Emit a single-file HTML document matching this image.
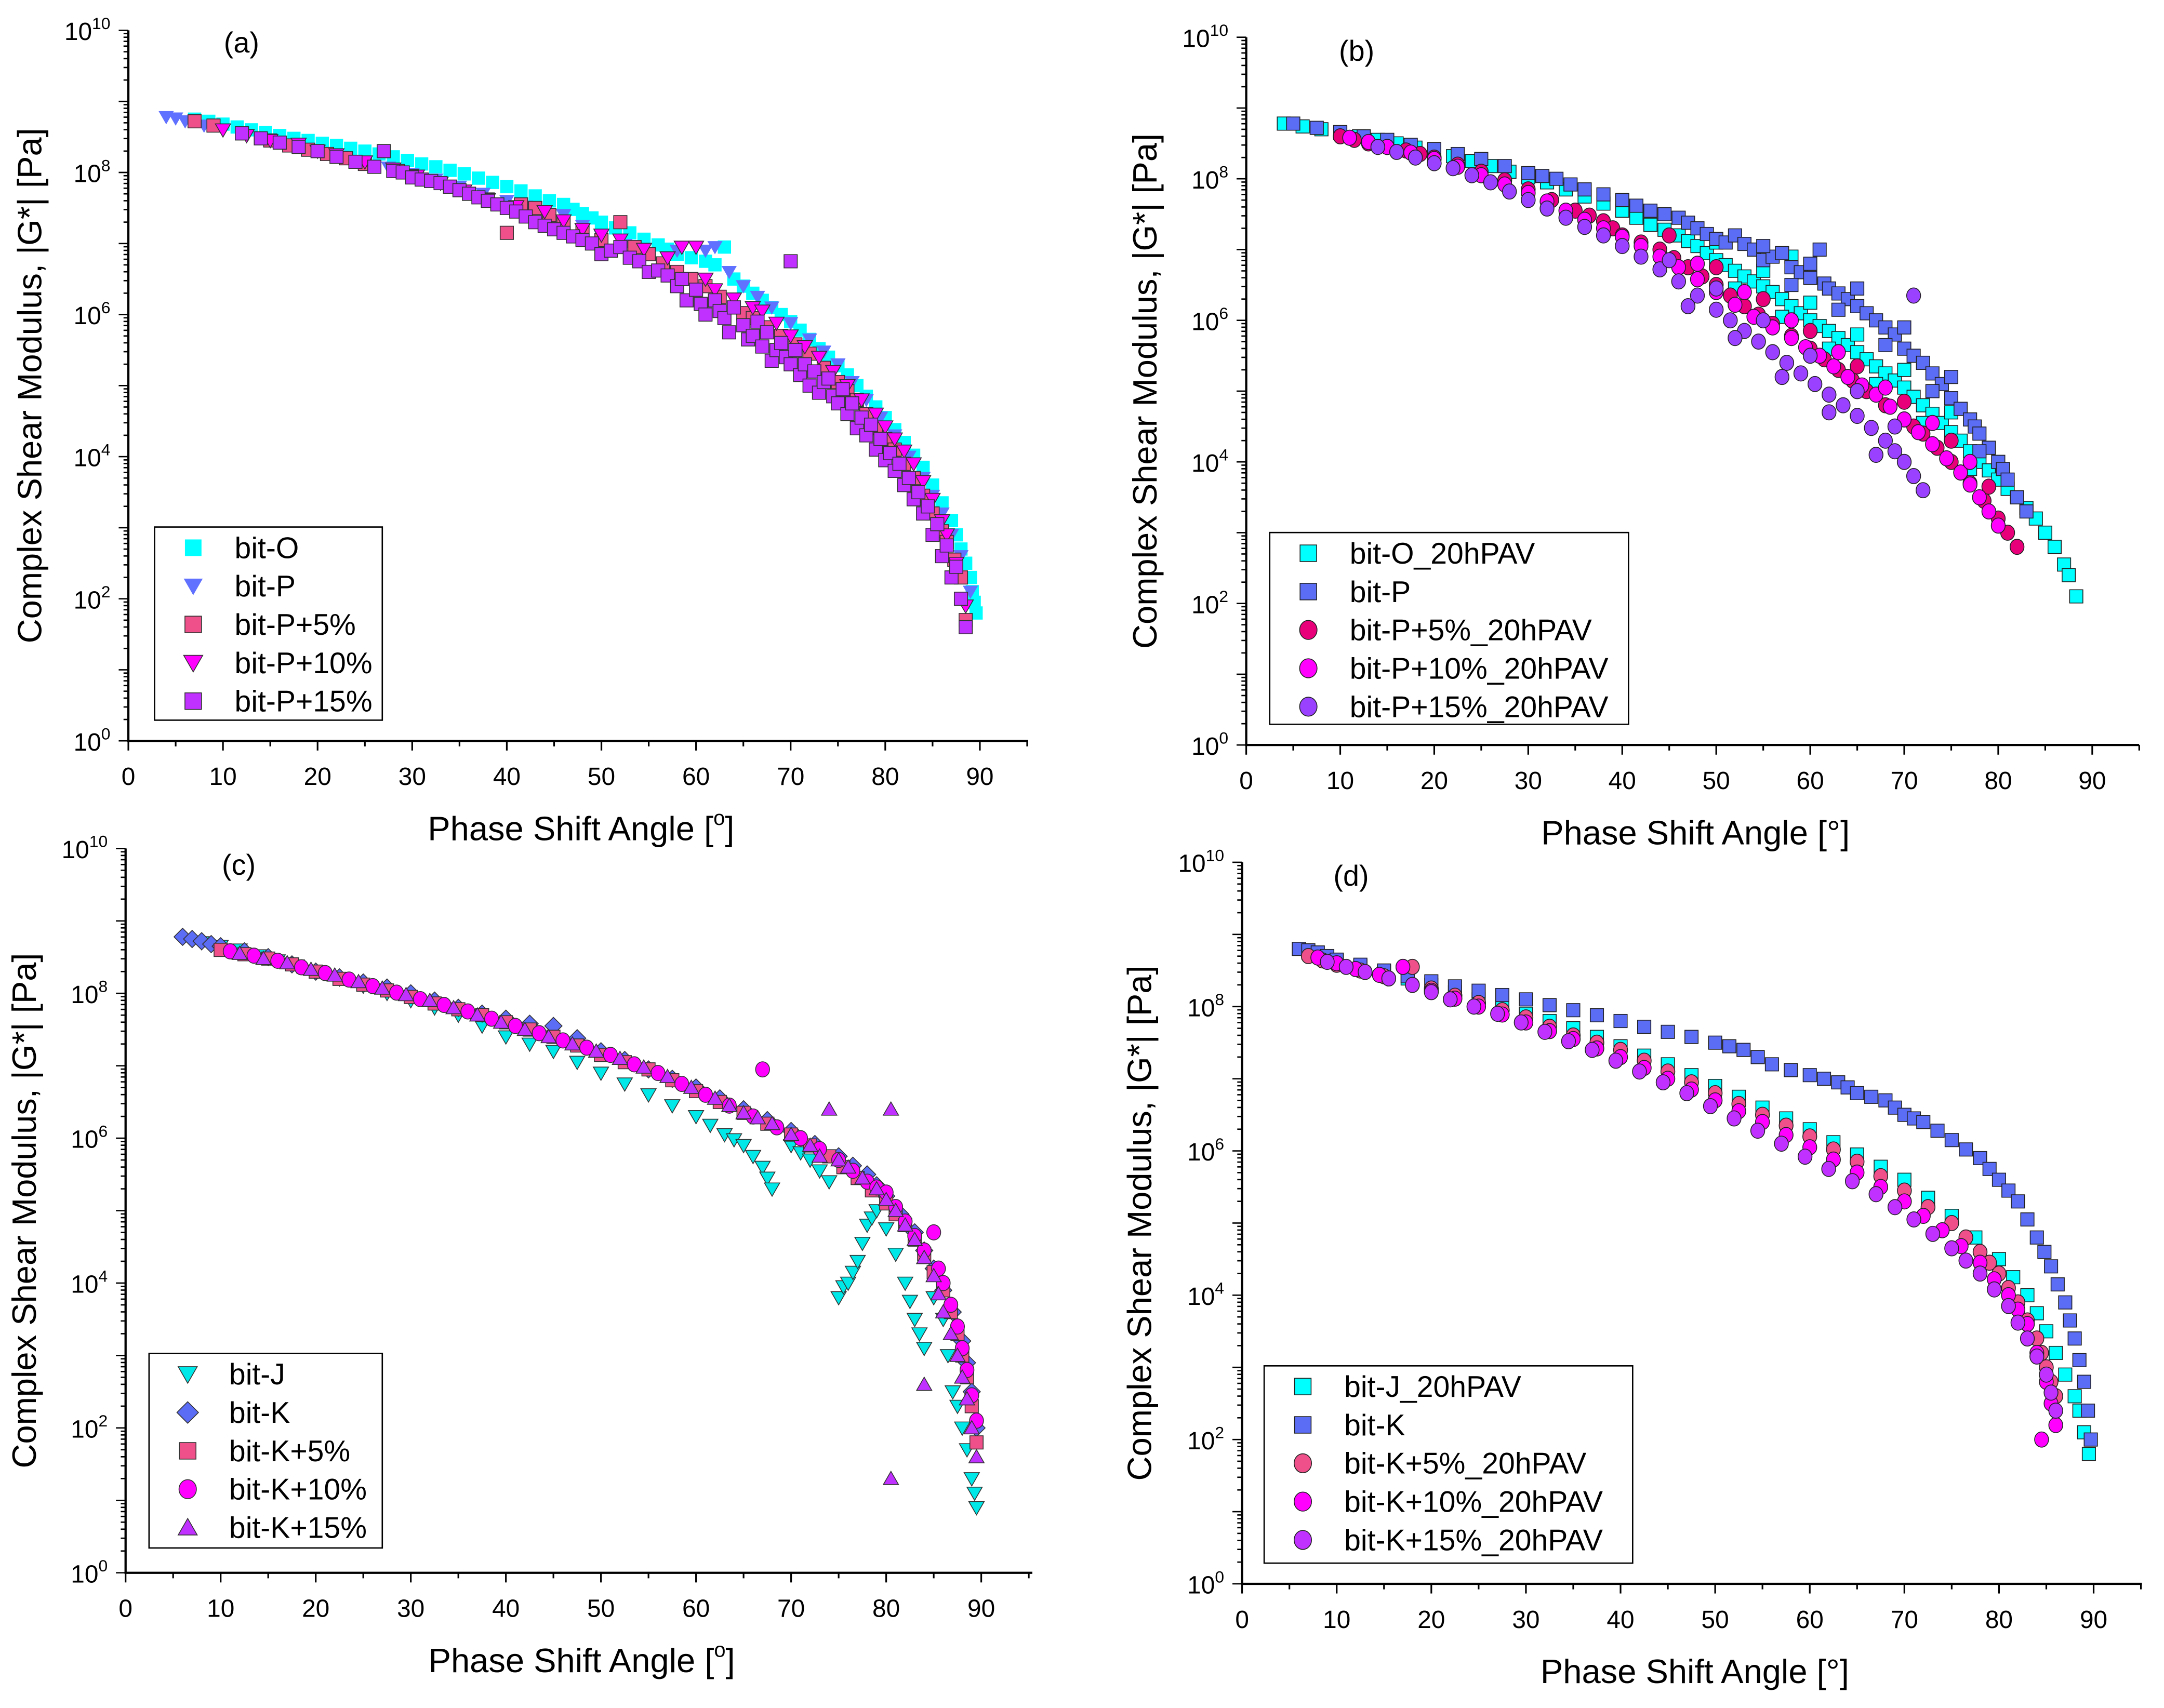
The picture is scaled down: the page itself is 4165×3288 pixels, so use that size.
<!DOCTYPE html>
<html><head><meta charset="utf-8"><style>
html,body{margin:0;padding:0;background:#fff}
svg{display:block}
text{font-family:"Liberation Sans",Arial,sans-serif;fill:#000}
</style></head><body>
<svg id="fig" width="4165" height="3288" viewBox="0 0 1568 1238" preserveAspectRatio="none" xmlns="http://www.w3.org/2000/svg"></svg>
<script>
// ---- data: [phase angle (deg), log10 |G*| (Pa)] ----
const aO=[[7,8.75],[8.5,8.72],[10,8.68],[11.5,8.64],[13,8.6],[14.5,8.56],[16,8.52],[17.5,8.48],[19,8.45],[20.5,8.41],[22,8.38],[23.5,8.34],[25,8.3],[26.5,8.26],[28,8.22],[29.5,8.17],[31,8.12],[32.5,8.08],[34,8.03],[35.5,7.98],[37,7.92],[38.5,7.86],[40,7.8],[41.5,7.74],[43,7.67],[44.5,7.6],[46,7.55],[47,7.48],[48,7.42],[49,7.36],[50,7.3],[51.5,7.22],[53,7.15],[54.5,7.06],[56,6.98],[57,6.92],[58,6.85],[59.5,6.8],[61,6.75],[62,6.7],[63,6.95],[64,6.5],[65,6.4],[66,6.3],[67,6.2],[68,6.1],[69,6.0],[70,5.9],[71,5.78],[72,5.65],[73,5.52],[74,5.4],[75,5.28],[76,5.15],[77,5.0],[78,4.85],[79,4.7],[80,4.55],[81,4.38],[82,4.2],[83,4.02],[84,3.85],[85,3.6],[86,3.35],[87,3.1],[87.5,2.9],[88,2.7],[88.5,2.5],[89,2.3],[89.2,2.1],[89.4,1.95],[89.6,1.8]];
const aP=[[4,8.78],[5,8.76],[6,8.72],[8,8.66],[10,8.6],[12.5,8.52],[15,8.45],[17.5,8.38],[20,8.3],[22.5,8.22],[25,8.15],[27.5,8.07],[30,7.98],[32.5,7.9],[35,7.8],[37.5,7.7],[40,7.6],[42,7.52],[44,7.45],[46,7.4],[48,7.25],[50,7.1],[52.5,6.98],[55,6.85],[58,6.9],[61,6.9],[62,6.95],[63.5,6.6],[65,6.4],[66.5,6.25],[68,6.1],[70,5.88],[72,5.65],[73.5,5.48],[75,5.3],[76.5,5.05],[78,4.8],[79.5,4.55],[81,4.3],[82.5,4.0],[84,3.7],[85,3.45],[86,3.2],[87,2.9],[88,2.6],[89,2.1]];
const aP5=[[7,8.72],[9,8.66],[12,8.55],[15,8.45],[17,8.38],[19,8.32],[21,8.26],[23,8.2],[25,8.12],[27,8.3],[28.5,8.02],[30,7.95],[32,7.88],[34,7.8],[36,7.7],[38,7.62],[40,7.15],[41.5,7.55],[43,7.5],[44.5,7.4],[46,7.3],[48,7.18],[50,7.05],[52,7.3],[53.5,6.95],[55,6.85],[56.5,6.72],[58,6.6],[59.5,6.5],[61,6.4],[62.5,6.25],[64,6.1],[65,6.02],[66,5.95],[67.5,5.82],[69,5.7],[70.5,5.58],[72,5.45],[73.5,5.25],[75,5.05],[76,4.92],[77,4.8],[78,4.6],[79,4.4],[80,4.25],[81,4.1],[82,3.9],[83,3.7],[84,3.45],[85,3.2],[86,2.95],[86.5,2.8],[87.3,2.55],[88,2.3],[88.5,1.7]];
const aP10=[[10,8.6],[12.5,8.52],[15,8.45],[18,8.4],[20,8.3],[22,8.25],[25,8.15],[28,8.05],[30.5,7.95],[33,7.85],[35.5,7.74],[38,7.62],[41,7.52],[44,7.45],[46,7.32],[48,7.2],[50,7.12],[52,7.05],[54.5,6.92],[57,6.8],[58.5,6.95],[60,6.95],[61,6.5],[62,6.35],[64,6.22],[66,6.1],[67,6.05],[68.5,5.88],[70,5.7],[71.5,5.55],[73,5.4],[74.5,5.2],[76,5.0],[77.5,4.8],[79,4.6],[80,4.42],[81,4.25],[82,4.08],[83,3.9],[84,3.65],[85,3.4],[86,3.1],[86.5,2.9],[87.5,2.5],[88.5,1.9]];
const aP15=[[12,8.55],[14,8.48],[16,8.42],[18,8.36],[20,8.3],[22,8.22],[24,8.15],[26,8.08],[27,8.3],[28,8.02],[29,8.0],[30,7.93],[31,7.9],[32,7.88],[33,7.85],[34,7.8],[35,7.75],[36,7.7],[37,7.65],[38,7.6],[39,7.55],[40,7.5],[41,7.45],[42,7.38],[43,7.3],[44,7.25],[45,7.2],[46,7.15],[47,7.1],[48,7.05],[49,7.0],[50,6.85],[51,6.9],[52,6.95],[53,6.8],[54,6.75],[55,6.6],[56,6.62],[57,6.55],[58,6.4],[58.5,6.5],[59,6.2],[60,6.35],[60.5,6.15],[61,6.0],[62,6.2],[62.5,6.05],[63,5.95],[63.5,5.75],[64,6.1],[65,5.85],[65.5,5.65],[66,5.7],[66.5,5.9],[67,5.55],[67.5,5.75],[68,5.35],[68.5,5.5],[69,5.6],[69.5,5.4],[70,5.3],[70,6.75],[70.5,5.5],[71,5.15],[71.5,5.3],[72,5.0],[72.5,5.2],[73,4.9],[73.5,5.05],[74,5.1],[74.5,4.85],[75,4.75],[75.5,4.95],[76,4.6],[76.5,4.75],[77,4.4],[77.5,4.55],[78,4.3],[78.5,4.45],[79,4.1],[79.5,4.25],[80,3.95],[80.5,4.05],[81,3.8],[81.5,3.9],[82,3.6],[82.5,3.7],[83,3.4],[83.5,3.5],[84,3.2],[84.5,3.3],[85,2.9],[85.5,3.05],[86,2.6],[86.5,2.75],[87,2.3],[87.5,2.45],[88,2.0],[88.5,1.6]];

const bO=[[4,8.78],[6,8.74],[8,8.7],[10,8.65],[12,8.6],[14,8.55],[16,8.5],[18,8.44],[20,8.38],[22,8.32],[24,8.25],[26,8.18],[28,8.1],[30,8.02],[32,7.95],[34,7.85],[36,7.75],[38,7.65],[40,7.55],[41.5,7.45],[43,7.35],[44.5,7.28],[46,7.2],[47,7.12],[48,7.05],[49,6.95],[50,6.85],[51,6.78],[52,6.7],[53,6.62],[54,6.55],[55,6.48],[56,6.4],[57,6.3],[58,6.9],[58,6.2],[59,6.1],[60,6.0],[61,5.92],[62,5.85],[63,5.75],[64,5.65],[65,5.55],[66,5.45],[67,5.35],[68,5.25],[69,5.15],[70,5.05],[71,4.92],[72,4.8],[73,4.68],[74,4.55],[75,4.42],[76,4.3],[77,4.15],[78,4.0],[79,3.88],[80,3.75],[81,3.62],[82,3.5],[83,3.35],[84,3.2],[85,3.0],[86,2.8],[87,2.55],[87.5,2.4],[88.3,2.1],[50,7.1],[55,6.7],[60,6.25],[65,5.8],[70,5.3],[75,4.7],[80,4.0],[52,6.45],[57,6.05],[62,5.6],[67,5.1],[72,4.55],[77,3.9]];
const bP=[[5,8.78],[7.5,8.72],[10,8.66],[12.5,8.6],[15,8.55],[17.5,8.48],[20,8.42],[22.5,8.35],[25,8.28],[27.5,8.18],[30,8.08],[31.5,8.04],[33,8.0],[34.5,7.92],[36,7.85],[38,7.78],[40,7.7],[41.5,7.62],[43,7.55],[44.5,7.5],[46,7.45],[47,7.38],[48,7.3],[49,7.22],[50,7.15],[51,7.1],[52,7.2],[53,7.08],[54,7.0],[55,6.85],[56,6.9],[57,6.95],[58,6.75],[59,6.68],[60,6.6],[61,7.0],[61.5,6.52],[62,6.45],[63,6.38],[64,6.3],[65,6.2],[66,6.1],[67,6.0],[68,5.9],[69,5.8],[70,5.6],[71,5.5],[72,5.4],[73,5.25],[74,5.1],[75,4.9],[76,4.75],[77,4.6],[77.5,4.5],[78,4.4],[79,4.2],[80,4.0],[80.5,3.9],[81,3.75],[82,3.5],[83,3.3],[55,7.05],[60,6.8],[65,6.45],[70,5.9],[75,5.2],[58,6.5],[63,6.15],[68,5.65],[73,5.0],[78,4.15]];
const bP5=[[10,8.6],[11.5,8.55],[13,8.5],[15,8.45],[17,8.4],[18.5,8.35],[20,8.3],[22.5,8.2],[25,8.1],[27.5,7.98],[30,7.85],[32.5,7.7],[35,7.55],[36.5,7.48],[38,7.4],[39,7.3],[40,7.2],[42,7.1],[44,7.0],[45.5,6.88],[47,6.75],[48.5,6.62],[50,6.5],[51.5,6.35],[53,6.2],[54.5,6.08],[56,5.95],[58,5.78],[60,5.6],[61.5,5.45],[63,5.3],[64.5,5.15],[66,5.0],[68,4.8],[70,4.6],[71,4.5],[72,4.4],[73.5,4.2],[75,4.0],[76,3.85],[77,3.7],[78.5,3.45],[80,3.2],[81,3.0],[82,2.8],[45,7.2],[50,6.75],[55,6.3],[60,5.85],[65,5.35],[70,4.85],[75,4.3],[79,3.65]];
const bP10=[[11,8.58],[13,8.52],[15,8.45],[17.5,8.37],[20,8.28],[22.5,8.17],[25,8.05],[27.5,7.92],[30,7.8],[32,7.68],[34,7.55],[36,7.42],[38,7.3],[40,7.18],[42,7.05],[44,6.9],[46,6.75],[48,6.58],[50,6.4],[52,6.22],[54,6.05],[56,5.9],[58,5.75],[59.5,5.62],[61,5.5],[62.5,5.35],[64,5.2],[65.5,5.08],[67,4.95],[68.5,4.78],[70,4.6],[71.5,4.42],[73,4.25],[74.5,4.05],[76,3.85],[77,3.68],[78,3.5],[79,3.3],[80,3.1],[48,6.8],[53,6.4],[58,6.0],[63,5.55],[68,5.05],[73,4.55],[77,4.0]];
const bP15=[[14,8.45],[16,8.38],[18,8.3],[20,8.22],[22,8.15],[24,8.05],[26,7.95],[28,7.82],[30,7.7],[32,7.58],[34,7.45],[36,7.32],[38,7.2],[40,7.05],[42,6.9],[44,6.72],[46,6.55],[48,6.35],[50,6.15],[51.5,6.0],[53,5.85],[54.5,5.7],[56,5.55],[57.5,5.4],[59,5.25],[60.5,5.1],[62,4.95],[63.5,4.8],[65,4.65],[66.5,4.48],[68,4.3],[69,4.15],[70,4.0],[71,3.8],[72,3.6],[71,6.35],[45,6.85],[50,6.45],[55,6.0],[60,5.5],[65,5.0],[69,4.5],[47,6.2],[52,5.75],[57,5.2],[62,4.7],[67,4.1]];

const cJ=[[8,8.7],[10,8.65],[12,8.6],[14,8.52],[16,8.45],[18,8.38],[20,8.3],[22.5,8.2],[25,8.1],[27.5,8.0],[30,7.9],[32.5,7.8],[35,7.7],[37.5,7.55],[40,7.4],[42.5,7.3],[45,7.2],[47.5,7.05],[50,6.9],[52.5,6.75],[55,6.6],[57.5,6.45],[60,6.3],[61.5,6.18],[63,6.05],[64,5.98],[65,5.9],[66,5.75],[67,5.6],[67.5,5.45],[68,5.3],[70,5.9],[71,5.8],[72,5.7],[73,5.55],[74,5.4],[75,3.8],[75.5,3.95],[76,4.0],[76.5,4.15],[77,4.3],[77.5,4.55],[78,4.8],[78.5,4.9],[79,5.0],[80,4.75],[81,4.4],[82,4.0],[82.5,3.75],[83,3.5],[83.5,3.3],[84,3.1],[85,3.8],[86,3.5],[86.5,3.0],[87,2.5],[87.5,2.3],[88,2.0],[88.5,1.7],[89,1.3],[89.5,0.9],[89.3,1.1]];
const cK=[[6,8.78],[7,8.75],[8,8.72],[9,8.68],[10,8.65],[12.5,8.58],[15,8.5],[17.5,8.4],[20,8.3],[22.5,8.22],[25,8.15],[27.5,8.08],[30,8.0],[32.5,7.9],[35,7.8],[37.5,7.72],[40,7.65],[42.5,7.58],[45,7.55],[47.5,7.38],[50,7.2],[52.5,7.08],[55,6.95],[57.5,6.82],[60,6.7],[62.5,6.55],[65,6.4],[67.5,6.25],[70,6.1],[72.5,5.92],[75,5.75],[76.5,5.62],[78,5.5],[79,5.35],[80,5.2],[81.5,4.95],[83,4.7],[84,4.45],[85,4.2],[86,3.9],[87,3.6],[88,3.2],[88.5,2.9],[89,2.5],[89.5,2.0]];
const cK5=[[10,8.6],[12.5,8.54],[15,8.48],[17.5,8.4],[20,8.3],[22.5,8.2],[25,8.12],[27.5,8.04],[30,7.95],[32.5,7.86],[35,7.78],[37.5,7.7],[40,7.6],[42.5,7.5],[45,7.4],[47.5,7.28],[50,7.15],[52.5,7.05],[55,6.95],[57.5,6.8],[60,6.65],[62.5,6.5],[65,6.35],[67.5,6.2],[70,6.05],[72,5.9],[74,5.75],[75.5,5.6],[77,5.45],[78.5,5.28],[80,5.1],[81,4.95],[82,4.8],[83,4.6],[84,4.4],[85,4.15],[86,3.9],[86.8,3.6],[87.5,3.3],[88,3.0],[88.5,2.7],[89,2.3],[89.5,1.8]];
const cK10=[[11,8.58],[13.5,8.52],[16,8.45],[18.5,8.36],[21,8.28],[23.5,8.19],[26,8.1],[28.5,8.01],[31,7.92],[33.5,7.84],[36,7.75],[38.5,7.65],[41,7.55],[43.5,7.45],[46,7.35],[48.5,7.25],[51,7.15],[53.5,7.02],[56,6.9],[58.5,6.75],[61,6.6],[63.5,6.45],[66,6.3],[67,6.95],[68.5,6.15],[71,6.0],[73,5.85],[75,5.7],[76.5,5.55],[78,5.4],[79,5.32],[80,5.25],[81,5.05],[82,4.85],[83,4.65],[84,4.45],[85,4.7],[85.5,4.2],[86,4.0],[86.8,3.7],[87.5,3.4],[88,3.1],[88.5,2.8],[89,2.45],[89.5,2.1]];
const cK15=[[12,8.55],[14.5,8.48],[17,8.42],[19.5,8.33],[22,8.25],[24.5,8.16],[27,8.07],[29.5,7.98],[32,7.9],[34.5,7.8],[37,7.7],[39.5,7.6],[42,7.5],[44.5,7.4],[47,7.3],[49.5,7.2],[52,7.1],[54.5,6.98],[57,6.85],[59.5,6.7],[62,6.55],[63.5,6.45],[65,6.35],[66.5,6.28],[68,6.2],[70,6.05],[72,5.9],[73,5.75],[74,6.4],[75,5.7],[76,5.6],[77.5,5.45],[79,5.3],[80,5.15],[80.5,6.4],[81,5.0],[82,4.8],[83,4.6],[84,2.6],[84,4.35],[85,4.1],[85.5,3.85],[86,3.6],[86.8,3.3],[87.5,3.0],[88,2.7],[88.5,2.4],[89,2.0],[89.5,1.6],[80.5,1.3]];

const dJ=[[7,8.75],[8.5,8.7],[10,8.65],[12.5,8.56],[15,8.48],[17.5,8.39],[20,8.3],[22.5,8.2],[25,8.1],[27.5,8.0],[30,7.9],[32.5,7.8],[35,7.7],[37.5,7.58],[40,7.45],[42.5,7.32],[45,7.2],[47.5,7.05],[50,6.9],[52.5,6.75],[55,6.6],[57.5,6.45],[60,6.3],[62.5,6.12],[65,5.95],[67.5,5.78],[70,5.6],[72.5,5.35],[75,5.1],[77.5,4.8],[80,4.5],[81.5,4.25],[83,4.0],[84,3.75],[85,3.5],[86,3.2],[87,2.9],[88,2.6],[88.5,2.4],[89,2.1],[89.5,1.8]];
const dK=[[6,8.8],[7,8.78],[8,8.75],[9,8.7],[10,8.65],[12.5,8.58],[15,8.5],[17.5,8.42],[20,8.35],[22.5,8.28],[25,8.22],[27.5,8.16],[30,8.1],[32.5,8.02],[35,7.95],[37.5,7.88],[40,7.8],[42.5,7.72],[45,7.65],[47.5,7.58],[50,7.5],[51.5,7.45],[53,7.4],[54.5,7.3],[56,7.2],[58,7.12],[60,7.05],[61.5,7.0],[63,6.95],[64,6.88],[65,6.8],[66.5,6.75],[68,6.7],[69,6.6],[70,6.5],[71,6.45],[72,6.4],[73.5,6.28],[75,6.15],[76.5,6.02],[78,5.9],[79,5.75],[80,5.6],[81,5.45],[82,5.3],[83,5.05],[84,4.8],[84.8,4.6],[85.5,4.4],[86.2,4.15],[87,3.9],[87.5,3.65],[88,3.4],[88.5,3.1],[89,2.8],[89.4,2.4],[89.7,2.0]];
const dK5=[[7,8.7],[8.5,8.64],[10,8.58],[12.5,8.5],[15,8.42],[17,8.55],[18,8.55],[20,8.25],[22.5,8.15],[25,8.05],[27.5,7.95],[30,7.85],[32.5,7.72],[35,7.6],[37.5,7.5],[40,7.4],[42.5,7.25],[45,7.1],[47.5,6.95],[50,6.8],[52.5,6.65],[55,6.5],[57.5,6.35],[60,6.2],[62.5,6.02],[65,5.85],[67.5,5.65],[70,5.45],[72.5,5.22],[75,5.0],[76.5,4.8],[78,4.6],[79,4.45],[80,4.3],[81,4.1],[82,3.9],[83,3.65],[84,3.4],[84.5,3.2],[85,3.0],[85.5,2.8],[86,2.6]];
const dK10=[[8,8.68],[10,8.6],[12,8.52],[14.5,8.44],[17,8.55],[20,8.22],[22.5,8.11],[25,8.0],[27.5,7.89],[30,7.78],[32.5,7.66],[35,7.55],[37.5,7.42],[40,7.3],[42.5,7.15],[45,7.0],[47.5,6.85],[50,6.7],[52.5,6.55],[55,6.4],[57.5,6.22],[60,6.05],[62.5,5.88],[65,5.7],[67.5,5.5],[70,5.3],[72,5.1],[74,4.9],[76,4.68],[78,4.45],[79.5,4.22],[81,4.0],[82,3.8],[83,3.6],[84,3.2],[85,2.8],[85.5,2.5],[86,2.2],[84.5,2.0]];
const dK15=[[9,8.62],[11,8.55],[13,8.48],[15.5,8.39],[18,8.3],[20,8.2],[22,8.1],[24.5,8.0],[27,7.9],[29.5,7.78],[32,7.65],[34.5,7.52],[37,7.4],[39.5,7.25],[42,7.1],[44.5,6.95],[47,6.8],[49.5,6.62],[52,6.45],[54.5,6.28],[57,6.1],[59.5,5.92],[62,5.75],[64.5,5.58],[67,5.4],[69,5.22],[71,5.05],[73,4.85],[75,4.65],[76.5,4.48],[78,4.3],[79.5,4.08],[81,3.85],[82,3.62],[83,3.4],[84,3.15],[85,2.9],[85.5,2.65],[86,2.4]];

const xTicks=[0,10,20,30,40,50,60,70,80,90];
const yTicks=[0,2,4,6,8,10];

const NS='http://www.w3.org/2000/svg';
const svg=document.getElementById('fig');
function el(tag,attrs,parent){const e=document.createElementNS(NS,tag);for(const k in attrs)e.setAttribute(k,attrs[k]);(parent||svg).appendChild(e);return e;}

function marker(g,shape,x,y,fill,stroke,s){
  let m;
  if(shape==='sq'){m=el('rect',{x:x-s,y:y-s,width:2*s,height:2*s,fill:fill,stroke:stroke,'stroke-width':0.6},g);}
  else if(shape==='tri'){m=el('polygon',{points:`${x-s*1.15},${y-s*0.9} ${x+s*1.15},${y-s*0.9} ${x},${y+s*1.1}`,fill:fill,stroke:stroke,'stroke-width':0.6},g);}
  else if(shape==='up'){m=el('polygon',{points:`${x-s*1.15},${y+s*0.9} ${x+s*1.15},${y+s*0.9} ${x},${y-s*1.1}`,fill:fill,stroke:stroke,'stroke-width':0.6},g);}
  else if(shape==='dia'){m=el('polygon',{points:`${x},${y-s*1.3} ${x+s*1.3},${y} ${x},${y+s*1.3} ${x-s*1.3},${y}`,fill:fill,stroke:stroke,'stroke-width':0.6},g);}
  else {m=el('ellipse',{cx:x,cy:y,rx:s*1.05,ry:s*1.15,fill:fill,stroke:stroke,'stroke-width':0.6},g);}
  return m;
}

function panel(cfg){
  const g=el('g',{});
  
  
  const X=v=>cfg.x0+(cfg.x90-cfg.x0)*v/90;
  const Y=v=>cfg.yb-(cfg.yb-cfg.yt)*v/10;
  const ax=el('path',{d:`M${cfg.x0},${cfg.yt} V${cfg.yb} H${cfg.xe}`,fill:'none',stroke:'#000','stroke-width':1.6},g);
  
  
  for(let v=0;v<=95;v+=5){
    const major=v%10===0;
    el('line',{x1:X(v),x2:X(v),y1:cfg.yb,y2:cfg.yb+(major?7:4),stroke:'#000','stroke-width':1.2},g);
  }
  xTicks.forEach(v=>{
    const t=el('text',{x:X(v),y:cfg.yb+32,'font-size':18,'text-anchor':'middle'},g);
    t.textContent=v;
    
    
  });
  for(let d=0;d<10;d++){
    for(let k=1;k<10;k++){
      const v=d+Math.log10(k);
      el('line',{x1:cfg.x0,x2:cfg.x0-(k===1?7:3.5),y1:Y(v),y2:Y(v),stroke:'#000','stroke-width':1},g);
    }
  }
  el('line',{x1:cfg.x0,x2:cfg.x0-7,y1:Y(10),y2:Y(10),stroke:'#000','stroke-width':1},g);
  yTicks.forEach(v=>{
    const t=el('text',{x:cfg.x0-13,y:Y(v)+7,'font-size':18,'text-anchor':'end'},g);
    
    
    t.appendChild(document.createTextNode('10'));
    const s=el('tspan',{'font-size':12,dy:-8},t);s.textContent=v;
  });
  const xt=el('text',{x:(cfg.x0+cfg.xe)/2+2,y:cfg.yb+72,'font-size':24.5,'text-anchor':'middle'},g);
  
  
  xt.appendChild(document.createTextNode('Phase Shift Angle ['));
  if(cfg.deg){xt.appendChild(document.createTextNode('°]'));}
  else{const s=el('tspan',{'font-size':15,dy:-11},xt);s.textContent='o';const s2=el('tspan',{dy:11},xt);s2.textContent=']';}
  const yx=cfg.ytx, yy=(cfg.yt+cfg.yb)/2;
  const yt=el('text',{x:yx,y:yy,'font-size':24.5,'text-anchor':'middle',transform:`rotate(-90 ${yx} ${yy})`},g);
  
  
  yt.textContent='Complex Shear Modulus, |G*| [Pa]';
  const pl=el('text',{x:cfg.lx,y:cfg.ly,'font-size':21,'text-anchor':'middle'},g);
  
  
  pl.textContent='('+cfg.id+')';
  cfg.series.forEach(s=>{
    const sg=el('g',{},g);
    
    
    s.data.forEach(p=>{
      const m=marker(sg,s.shape,X(p[0]),Y(p[1]),s.fill,s.stroke,4.8);
      
      
    });
  });
  const L=cfg.leg;
  const lg=el('g',{},g);
  
  
  el('rect',{x:L.x,y:L.y,width:L.w,height:L.h,fill:'#fff',stroke:'#000','stroke-width':1},lg);
  cfg.series.forEach((s,i)=>{
    const yy=L.y+15+i*27.8;
    const en=el('g',{},lg);
    
    
    marker(en,s.shape,L.x+28,yy,s.fill,s.stroke,6);
    const t=el('text',{x:L.x+58,y:yy+7.5,'font-size':21.5},en);
    t.textContent=s.name;
  });
}

panel({id:'a',x0:93,x90:710,xe:745,yt:22,yb:537,ytx:30,lx:175,ly:38,deg:false,
  leg:{x:112,y:382,w:165,h:140},
  series:[
    {name:'bit-O',data:aO,shape:'sq',fill:'#00ffff',stroke:'none'},
    {name:'bit-P',data:aP,shape:'tri',fill:'#6070ff',stroke:'none'},
    {name:'bit-P+5%',data:aP5,shape:'sq',fill:'#f0508a',stroke:'#333'},
    {name:'bit-P+10%',data:aP10,shape:'tri',fill:'#ff00ff',stroke:'#333'},
    {name:'bit-P+15%',data:aP15,shape:'sq',fill:'#c030ff',stroke:'#333'}]});
panel({id:'b',x0:903,x90:1516,xe:1550,yt:27,yb:540,ytx:838,lx:983,ly:44,deg:true,
  leg:{x:920,y:386,w:260,h:139},
  series:[
    {name:'bit-O_20hPAV',data:bO,shape:'sq',fill:'#00ffff',stroke:'#222'},
    {name:'bit-P',data:bP,shape:'sq',fill:'#5b6cf5',stroke:'#222'},
    {name:'bit-P+5%_20hPAV',data:bP5,shape:'circ',fill:'#e8007a',stroke:'#222'},
    {name:'bit-P+10%_20hPAV',data:bP10,shape:'circ',fill:'#ff00ff',stroke:'#222'},
    {name:'bit-P+15%_20hPAV',data:bP15,shape:'circ',fill:'#9a40ff',stroke:'#222'}]});
panel({id:'c',x0:91,x90:711,xe:748,yt:615,yb:1140,ytx:26,lx:173,ly:634,deg:false,
  leg:{x:108,y:981,w:169,h:141},
  series:[
    {name:'bit-J',data:cJ,shape:'tri',fill:'#00e8e8',stroke:'#333'},
    {name:'bit-K',data:cK,shape:'dia',fill:'#5b6cf5',stroke:'#333'},
    {name:'bit-K+5%',data:cK5,shape:'sq',fill:'#f0508a',stroke:'#333'},
    {name:'bit-K+10%',data:cK10,shape:'circ',fill:'#ff00ff',stroke:'#333'},
    {name:'bit-K+15%',data:cK15,shape:'up',fill:'#c030ff',stroke:'#333'}]});
panel({id:'d',x0:900,x90:1517,xe:1552,yt:625,yb:1148,ytx:834,lx:979,ly:642,deg:true,
  leg:{x:916,y:990,w:267,h:143},
  series:[
    {name:'bit-J_20hPAV',data:dJ,shape:'sq',fill:'#00ffff',stroke:'#222'},
    {name:'bit-K',data:dK,shape:'sq',fill:'#5b6cf5',stroke:'#222'},
    {name:'bit-K+5%_20hPAV',data:dK5,shape:'circ',fill:'#f0508a',stroke:'#222'},
    {name:'bit-K+10%_20hPAV',data:dK10,shape:'circ',fill:'#ff00ff',stroke:'#222'},
    {name:'bit-K+15%_20hPAV',data:dK15,shape:'circ',fill:'#c030ff',stroke:'#222'}]});
</script>
</body></html>
